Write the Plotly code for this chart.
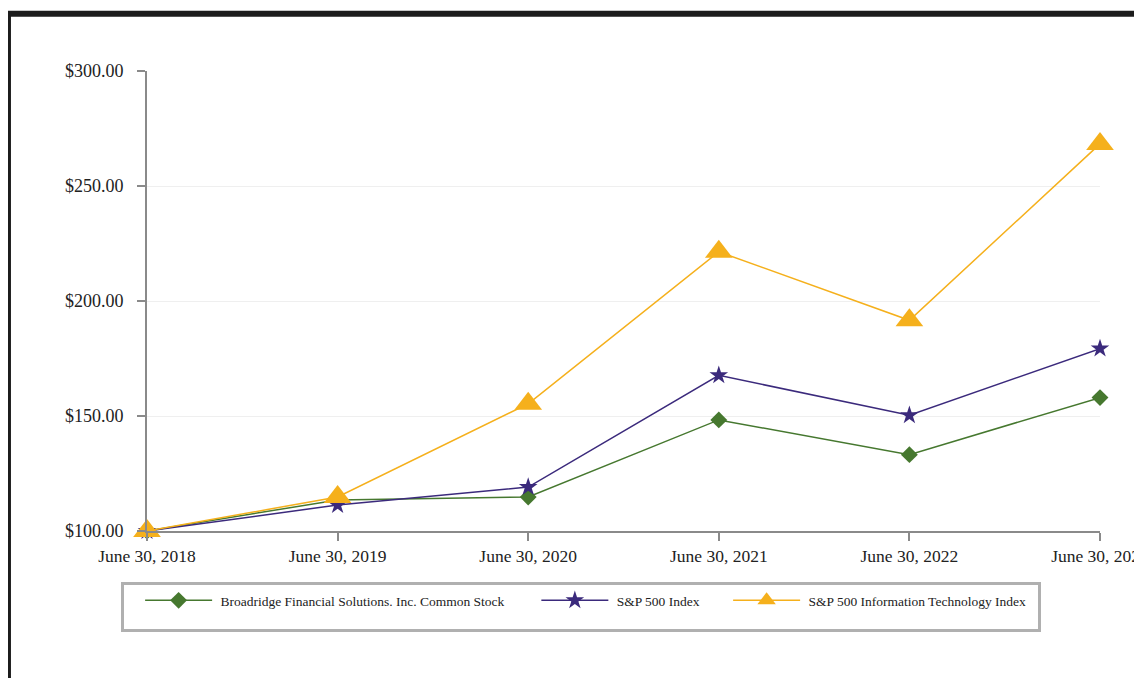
import plotly.graph_objects as go

# Data
dates = ["June 30, 2018", "June 30, 2019", "June 30, 2020",
         "June 30, 2021", "June 30, 2022", "June 30, 2023"]
broadridge = [100.0, 113.5, 114.8, 148.3, 133.2, 158.0]
sp500 = [100.0, 111.3, 119.1, 167.7, 150.3, 179.3]
sp500_it = [100.0, 114.8, 155.3, 221.4, 191.6, 268.3]
y_ticks = [100, 150, 200, 250, 300]

x_pos = list(range(len(dates)))
NB = "\u00a0"

fig = go.Figure()
fig.add_trace(go.Scatter(
    x=x_pos, y=broadridge, mode="lines+markers", cliponaxis=False,
    name=NB + "Broadridge Financial Solutions. Inc. Common Stock" + NB * 8,
    line=dict(color="#46782f", width=1.5),
    marker=dict(symbol="diamond", size=13, color="#46782f")))
fig.add_trace(go.Scatter(
    x=x_pos, y=sp500, mode="lines+markers", cliponaxis=False,
    name=NB + "S&P 500 Index" + NB * 7,
    line=dict(color="#3b2a7c", width=1.5),
    marker=dict(symbol="star", size=14, color="#3b2a7c")))
fig.add_trace(go.Scatter(
    x=x_pos, y=sp500_it, mode="lines+markers", cliponaxis=False,
    name=NB + "S&P 500 Information Technology Index" + NB * 2,
    line=dict(color="#f5b01c", width=1.5),
    marker=dict(symbol="triangle-up", size=24, color="#f5b01c")))

# outer black frame of the page
fig.add_shape(type="rect", xref="paper", yref="paper",
              x0=-0.1459, x1=1.2, y0=-0.7, y1=1.1246,
              line=dict(color="#1c1c1c", width=6), layer="below")

fig.update_layout(
    width=1142, height=678,
    margin=dict(l=139, r=50, t=63, b=155),
    paper_bgcolor="white", plot_bgcolor="white",
    font=dict(family="Liberation Serif", color="#222222", size=18),
    xaxis=dict(
        range=[0, 5], tickvals=x_pos, ticktext=dates, automargin=False,
        showgrid=False, zeroline=False, ticklabeloverflow="allow",
        showline=True, linecolor="#8a8a8a", linewidth=2,
        ticks="outside", ticklen=8, tickcolor="#8a8a8a", tickwidth=2,
        tickfont=dict(size=17.5)),
    yaxis=dict(
        range=[100, 300], tickvals=y_ticks, automargin=False,
        ticktext=["${:.2f}".format(v) for v in y_ticks],
        showgrid=True, gridcolor="#efefef", gridwidth=1, zeroline=False,
        showline=True, linecolor="#8a8a8a", linewidth=2,
        ticks="outside", ticklen=8, tickcolor="#8a8a8a", tickwidth=2,
        ticklabelstandoff=10, tickfont=dict(size=18)),
    legend=dict(
        orientation="h", x=0.455, xanchor="center", y=-0.111, yanchor="top",
        bordercolor="#b0b0b0", borderwidth=3, bgcolor="white",
        font=dict(size=13.5, family="Liberation Serif"),
        title=dict(text=NB, side="left", font=dict(size=26)),
        itemwidth=67, tracegroupgap=0),
    showlegend=True,
)

fig.write_html("out.html")
